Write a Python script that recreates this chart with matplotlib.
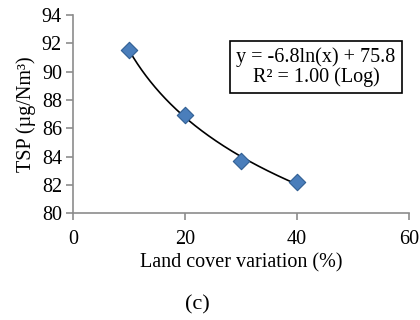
import numpy as np
import matplotlib
matplotlib.use("Agg")
import matplotlib.pyplot as plt

land_cover = [10, 20, 30, 40]
tsp = [91.5, 86.9, 83.7, 82.2]
x_ticks = [0, 20, 40, 60]
y_ticks = [80, 82, 84, 86, 88, 90, 92, 94]

plt.rcParams['font.family'] = ['Liberation Serif', 'DejaVu Serif']

fig = plt.figure(figsize=(4.2, 3.2), dpi=100)
ax = fig.add_axes([0.174, 0.334, 0.800, 0.619])

# log trend line fitted from the data
b, a = np.polyfit(np.log(land_cover), tsp, 1)
xs = np.linspace(min(land_cover), max(land_cover), 200)
ax.plot(xs, a + b * np.log(xs), color='black', lw=1.2, zorder=2)

ax.scatter(land_cover, tsp, marker='D', s=70, color='#4A7EBB',
           edgecolor='#2F5E93', linewidth=0.8, zorder=3)

ax.set_xlim(0, 60)
ax.set_ylim(80, 94)
ax.set_xticks(x_ticks)
ax.set_yticks(y_ticks)
for s in ['top', 'right']:
    ax.spines[s].set_visible(False)
for s in ['left', 'bottom']:
    ax.spines[s].set_color('#8c8c8c')
    ax.spines[s].set_linewidth(1.2)
ax.tick_params(axis='both', direction='out', length=5, width=1.2,
               color='#8c8c8c', labelsize=14.5, pad=3)
ax.tick_params(axis='x', pad=7)

ax.set_xlabel('Land cover variation (%)', fontsize=14.5, labelpad=3)
ax.set_ylabel('TSP (µg/Nm³)', fontsize=14.5, labelpad=4)

ax.text(0.723, 0.737, 'y = -6.8ln(x) + 75.8\nR² = 1.00 (Log)',
        transform=ax.transAxes, ha='center', va='center', fontsize=14.5,
        linespacing=1.05,
        bbox=dict(boxstyle='square,pad=0.3', facecolor='white',
                  edgecolor='black', linewidth=1.2))

fig.text(0.471, 0.047, '(c)', ha='center', va='center', fontsize=16)

fig.savefig('out.png', dpi=100)
